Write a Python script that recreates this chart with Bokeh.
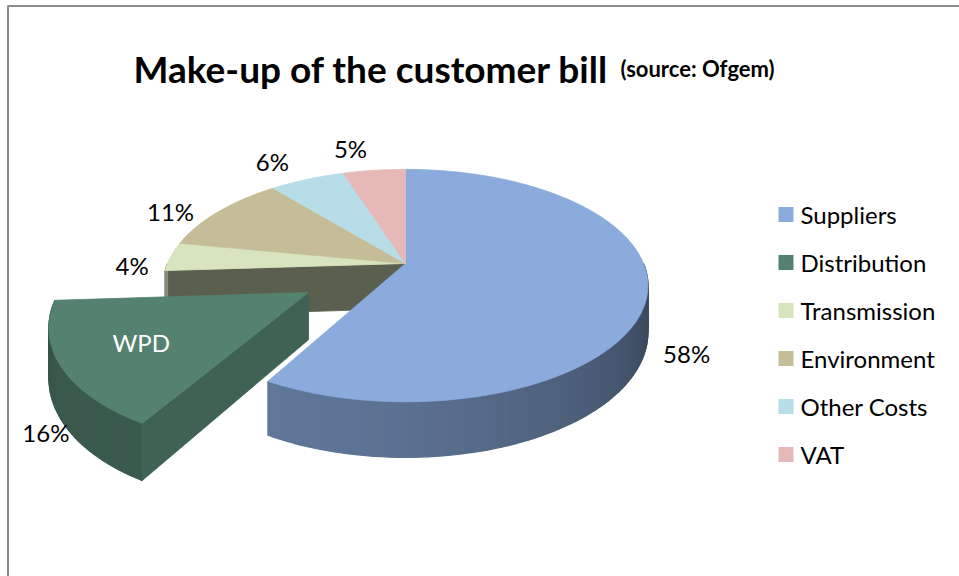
import numpy as np
from bokeh.plotting import figure
from bokeh.models import Range1d, ColumnDataSource
from bokeh.core.properties import value
from bokeh.embed import file_html
from bokeh.resources import INLINE

# ---------------- data ----------------
categories = ["Suppliers", "Distribution", "Transmission", "Environment", "Other Costs", "VAT"]
shares = [58, 16, 4, 11, 6, 5]
pct_labels = ["58%", "16%", "4%", "11%", "6%", "5%"]
top_colors = ["#8aabdc", "#558270", "#d7e4bd", "#c4bd97", "#b7dde8", "#e6b9b8"]
exploded = "Distribution"
callout = "WPD"
title_main = "Make-up of the customer bill"
title_sub = "(source: Ofgem)"

# ---------------- geometry / style ----------------
W, H = 959, 576
CX, CY, R, S, K, DEPTH, EXPL = 405, 263, 238, 112, 0.19, 45, 0.46
FONT = "Lato"

def proj(X, Y, z=0.0):
    w = 1.0 / (1.0 - K * Y)
    return CX + R * X * w, CY + S * Y * w + z * DEPTH * w

def hex2rgb(h):
    h = h.lstrip("#")
    return [int(h[i:i + 2], 16) for i in (0, 2, 4)]

def shade(h, f):
    r, g, b = hex2rgb(h)
    return "#%02x%02x%02x" % tuple(int(max(0, min(255, c * f))) for c in (r, g, b))

p = figure(width=W, height=H, x_range=Range1d(0, W), y_range=Range1d(H, 0),
           output_backend="svg", toolbar_location=None, min_border=0)
p.axis.visible = False
p.xgrid.visible = False
p.ygrid.visible = False
p.outline_line_color = None
p.background_fill_color = "white"
p.border_fill_color = "white"

# chart-area frame
p.quad(left=[7.5], right=[975], top=[5.5], bottom=[600], fill_color=None,
       line_color="#8c8c8c", line_width=2)

total = float(sum(shares))
ends = np.cumsum(shares) / total * 360.0
starts = np.concatenate([[0.0], ends[:-1]])
mids = (starts + ends) / 2.0

def offset(i):
    if categories[i] == exploded:
        m = np.radians(mids[i])
        return EXPL * np.sin(m), -EXPL * np.cos(m)
    return 0.0, 0.0

def rim(t, ox, oy, z, r=1.0):
    a = np.radians(t)
    return proj(r * np.sin(a) + ox, -r * np.cos(a) + oy, z)

L_side = (-0.6, 0.8)

def side_patches(i):
    ox, oy = offset(i)
    a0, a1 = max(starts[i], 90.0), min(ends[i], 270.0)
    xs, ys, cs = [], [], []
    if a1 <= a0:
        return xs, ys, cs
    n = max(2, int((a1 - a0) / 1.5))
    ts = np.linspace(a0, a1, n + 1)
    for ta, tb in zip(ts[:-1], ts[1:]):
        pts = [rim(ta, ox, oy, 0), rim(tb, ox, oy, 0), rim(tb, ox, oy, 1), rim(ta, ox, oy, 1)]
        xs.append([q[0] for q in pts]); ys.append([q[1] for q in pts])
        tm = np.radians((ta + tb) / 2)
        d = L_side[0] * np.sin(tm) + L_side[1] * (-np.cos(tm))
        cs.append(shade(top_colors[i], 0.5 + 0.2 * d))
    return xs, ys, cs

def radial_face(i, t, factor):
    ox, oy = offset(i)
    pts = [proj(ox, oy, 0), rim(t, ox, oy, 0), rim(t, ox, oy, 1), proj(ox, oy, 1)]
    return [q[0] for q in pts], [q[1] for q in pts], shade(top_colors[i], factor)

def top_face(i):
    ox, oy = offset(i)
    ts = np.linspace(starts[i], ends[i], max(3, int((ends[i] - starts[i]) / 1.0)) + 1)
    pts = [proj(ox, oy, 0)] + [rim(t, ox, oy, 0) for t in ts]
    return [q[0] for q in pts], [q[1] for q in pts]

ex_i = categories.index(exploded)
main = [i for i in range(len(categories)) if i != ex_i]

def draw(xs, ys, cs, lw=0.8):
    if xs:
        src = ColumnDataSource(dict(xs=xs, ys=ys, c=cs))
        p.patches("xs", "ys", source=src, fill_color="c", line_color="c", line_width=lw)

# 1) exposed radial faces of neighbours of the exploded slice
xs, ys, cs = [], [], []
nxt = (ex_i + 1) % len(categories)
prv = (ex_i - 1) % len(categories)
if np.sin(np.radians(starts[nxt])) < 0:
    a, b, c = radial_face(nxt, starts[nxt], 0.42); xs.append(a); ys.append(b); cs.append(c)
if np.sin(np.radians(ends[prv])) > 0:
    a, b, c = radial_face(prv, ends[prv], 0.42); xs.append(a); ys.append(b); cs.append(c)
draw(xs, ys, cs)

# 2) outer sides of main pie
xs, ys, cs = [], [], []
for i in main:
    a, b, c = side_patches(i); xs += a; ys += b; cs += c
draw(xs, ys, cs, lw=1.3)

# 3) top faces of main pie
xs, ys, cs = [], [], []
for i in main:
    a, b = top_face(i); xs.append(a); ys.append(b); cs.append(top_colors[i])
draw(xs, ys, cs)

# 4) exploded slice
xs, ys, cs = side_patches(ex_i)
draw(xs, ys, cs, lw=1.3)
xs, ys, cs = [], [], []
if np.sin(np.radians(starts[ex_i])) < 0:
    a, b, c = radial_face(ex_i, starts[ex_i], 0.76); xs.append(a); ys.append(b); cs.append(c)
if np.sin(np.radians(ends[ex_i])) > 0:
    a, b, c = radial_face(ex_i, ends[ex_i], 0.76); xs.append(a); ys.append(b); cs.append(c)
draw(xs, ys, cs)
a, b = top_face(ex_i)
draw([a], [b], [top_colors[ex_i]])

# ---------------- labels ----------------
nudges = [(-7, 55), (36, 51), (3, 10), (-18, 8), (-20, -5), (-19, -8)]
lx, ly = [], []
for i in range(len(categories)):
    ox, oy = offset(i)
    x0, y0 = rim(mids[i], ox, oy, 0, r=1.18)
    lx.append(x0 + nudges[i][0]); ly.append(y0 + nudges[i][1])
p.text(x=lx, y=ly, text=pct_labels, text_font=value(FONT), text_font_size="24px",
       text_color="#000000", text_align="center", text_baseline="middle")

ox, oy = offset(ex_i)
wx, wy = rim(mids[ex_i], ox, oy, 0, r=0.70)
p.text(x=[wx], y=[wy], text=[callout], text_font=value(FONT), text_font_size="24px",
       text_color="#ffffff", text_align="center", text_baseline="middle")

# ---------------- title ----------------
p.text(x=[133], y=[68], text=[title_main], text_font=value(FONT), text_font_size="37px",
       text_font_style="bold", text_color="#000000", text_align="left", text_baseline="alphabetic")
p.text(x=[620], y=[68], text=[title_sub], text_font=value(FONT), text_font_size="22px",
       text_font_style="bold", text_color="#000000", text_align="left", text_baseline="alphabetic")

# ---------------- legend ----------------
leg_y = [214 + 48 * i for i in range(len(categories))]
p.rect(x=[785.5] * len(categories), y=leg_y, width=15, height=15, width_units="screen",
       height_units="screen", fill_color=top_colors, line_color=None)
p.text(x=[800] * len(categories), y=leg_y, text=categories, text_font=value(FONT),
       text_font_size="24px", text_color="#000000", text_align="left", text_baseline="middle")

open("out.html", "w").write(file_html(p, INLINE))
